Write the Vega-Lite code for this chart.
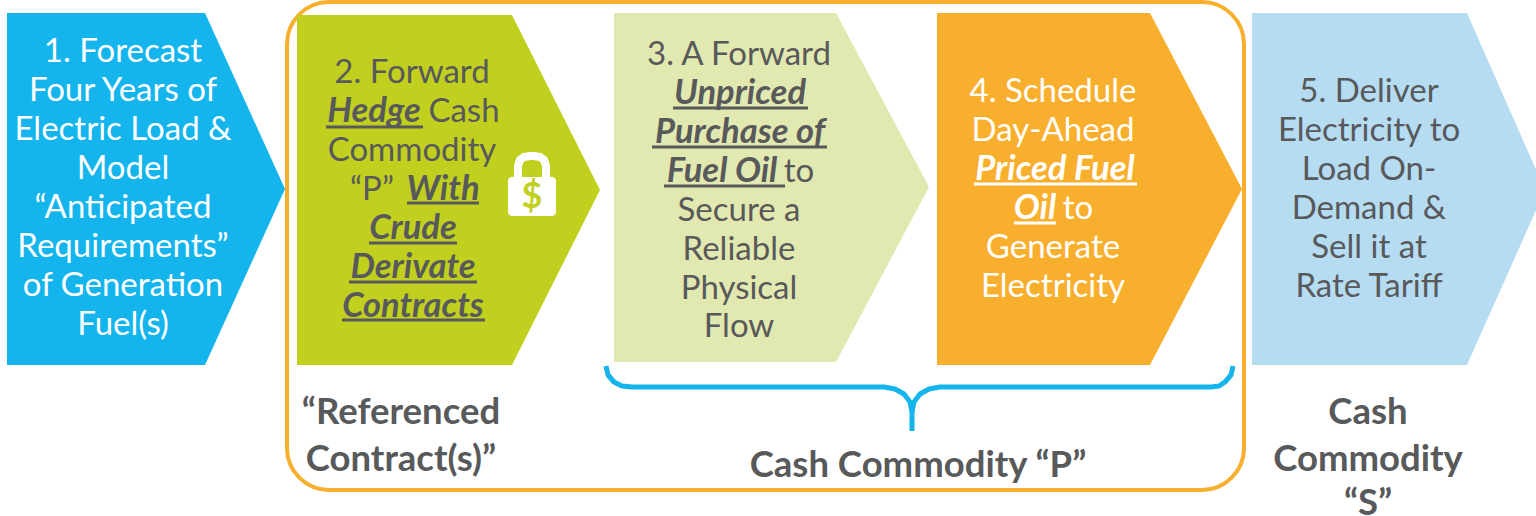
{"$schema":"https://vega.github.io/schema/vega-lite/v6.json","width":1536,"height":516,"padding":0,"autosize":{"type":"none"},"background":"white","view":{"stroke":null},
"datasets":{
"chevrons":[
{"s":"1","x":7,"t":13,"b":365},{"s":"1","x":205,"t":13,"b":365},{"s":"1","x":285,"t":189,"b":189},
{"s":"2","x":297,"t":15,"b":365},{"s":"2","x":512,"t":15,"b":365},{"s":"2","x":600,"t":190,"b":190},
{"s":"3","x":614,"t":13,"b":362},{"s":"3","x":836,"t":13,"b":362},{"s":"3","x":929,"t":187,"b":187},
{"s":"4","x":937,"t":13,"b":365},{"s":"4","x":1150,"t":13,"b":365},{"s":"4","x":1242,"t":189,"b":189},
{"s":"5","x":1252,"t":13,"b":365},{"s":"5","x":1467,"t":13,"b":365},{"s":"5","x":1545,"t":190,"b":190}],
"frame":[{"x":287,"x2":1244,"y":2,"y2":490}],
"brace":[
{"p":"l","o":1,"x":606,"y":366},{"p":"l","o":2,"x":608,"y":375},{"p":"l","o":3,"x":614,"y":382},{"p":"l","o":4,"x":622,"y":386},{"p":"l","o":5,"x":632,"y":387},{"p":"l","o":6,"x":884,"y":387},{"p":"l","o":7,"x":895,"y":389},{"p":"l","o":8,"x":904,"y":394},{"p":"l","o":9,"x":910,"y":402},{"p":"l","o":10,"x":912,"y":412},{"p":"l","o":11,"x":912,"y":431},
{"p":"r","o":1,"x":1233,"y":366},{"p":"r","o":2,"x":1231,"y":375},{"p":"r","o":3,"x":1225,"y":382},{"p":"r","o":4,"x":1219,"y":386},{"p":"r","o":5,"x":1211,"y":387},{"p":"r","o":6,"x":940,"y":387},{"p":"r","o":7,"x":929,"y":389},{"p":"r","o":8,"x":920,"y":394},{"p":"r","o":9,"x":914,"y":402},{"p":"r","o":10,"x":912,"y":412}],
"lockBody":[{"x":508,"x2":556,"y":177,"y2":216}],
"shackle":[{"o":1,"x":518,"y":182},{"o":2,"x":518,"y":166},{"o":3,"x":520,"y":160},{"o":4,"x":524,"y":157},{"o":5,"x":530,"y":156},{"o":6,"x":534,"y":156},{"o":7,"x":540,"y":157},{"o":8,"x":544,"y":160},{"o":9,"x":546,"y":166},{"o":10,"x":546,"y":182}],
"lockSign":[{"x":532,"y":208,"t":"$"}],
"underlines":[
{"box":"2","x":326,"x2":423,"y":127},{"box":"2","x":407,"x2":479,"y":203},{"box":"2","x":369,"x2":457,"y":243},{"box":"2","x":349,"x2":477,"y":282},{"box":"2","x":342,"x2":485,"y":320},
{"box":"3","x":673,"x2":808,"y":108},{"box":"3","x":652,"x2":827,"y":147},{"box":"3","x":664,"x2":785,"y":186},
{"box":"4","x":974,"x2":1137,"y":184},{"box":"4","x":1014,"x2":1056,"y":223}],
"regular":[
{"box":"1","x":123,"y":62,"t":"1. Forecast"},{"box":"1","x":123,"y":101,"t":"Four Years of"},{"box":"1","x":123,"y":140,"t":"Electric Load &"},{"box":"1","x":123,"y":179,"t":"Model"},{"box":"1","x":123,"y":218,"t":"“Anticipated"},{"box":"1","x":123,"y":257,"t":"Requirements”"},{"box":"1","x":123,"y":296,"t":"of Generation"},{"box":"1","x":123,"y":335,"t":"Fuel(s)"},
{"box":"2","x":412,"y":83,"t":"2. Forward"},{"box":"2","x":464,"y":122,"t":"Cash"},{"box":"2","x":412,"y":161,"t":"Commodity"},{"box":"2","x":372,"y":200,"t":"“P”"},
{"box":"3","x":739,"y":65,"t":"3. A Forward"},{"box":"3","x":799,"y":182,"t":"to"},{"box":"3","x":739,"y":221,"t":"Secure a"},{"box":"3","x":739,"y":260,"t":"Reliable"},{"box":"3","x":739,"y":299,"t":"Physical"},{"box":"3","x":739,"y":337,"t":"Flow"},
{"box":"4","x":1053,"y":102,"t":"4. Schedule"},{"box":"4","x":1053,"y":141,"t":"Day-Ahead"},{"box":"4","x":1078,"y":219,"t":"to"},{"box":"4","x":1053,"y":258,"t":"Generate"},{"box":"4","x":1053,"y":297,"t":"Electricity"},
{"box":"5","x":1369,"y":102,"t":"5. Deliver"},{"box":"5","x":1369,"y":141,"t":"Electricity to"},{"box":"5","x":1369,"y":180,"t":"Load On-"},{"box":"5","x":1369,"y":219,"t":"Demand  &"},{"box":"5","x":1369,"y":258,"t":"Sell it at"},{"box":"5","x":1369,"y":297,"t":"Rate Tariff"}],
"emphasis":[
{"box":"2","x":374,"y":122,"t":"Hedge"},{"box":"2","x":443,"y":200,"t":"With"},{"box":"2","x":413,"y":239,"t":"Crude"},{"box":"2","x":413,"y":278,"t":"Derivate"},{"box":"2","x":413,"y":317,"t":"Contracts"},
{"box":"3","x":740,"y":104,"t":"Unpriced"},{"box":"3","x":740,"y":143,"t":"Purchase of"},{"box":"3","x":722,"y":182,"t":"Fuel Oil"},
{"box":"4","x":1055,"y":180,"t":"Priced Fuel"},{"box":"4","x":1035,"y":219,"t":"Oil"}],
"captions":[
{"x":401,"y":424,"t":"“Referenced"},{"x":401,"y":471,"t":"Contract(s)”"},{"x":918,"y":477,"t":"Cash Commodity “P”"},{"x":1368,"y":424,"t":"Cash"},{"x":1368,"y":471,"t":"Commodity"},{"x":1368,"y":515,"t":"“S”"}]
},
"resolve":{"scale":{"color":"independent"}},
"layer":[
{"data":{"name":"frame"},"mark":{"type":"rect","filled":false,"stroke":"#F8AF2E","strokeWidth":4,"cornerRadius":42},"encoding":{"x":{"field":"x","type":"quantitative","scale":{"domain":[0,1536],"nice":false,"zero":false},"axis":null},"x2":{"field":"x2"},"y":{"field":"y","type":"quantitative","scale":{"domain":[516,0],"nice":false,"zero":false},"axis":null},"y2":{"field":"y2"}}},
{"data":{"name":"chevrons"},"mark":{"type":"area","orient":"vertical","interpolate":"linear"},"encoding":{"x":{"field":"x","type":"quantitative"},"y":{"field":"t","type":"quantitative"},"y2":{"field":"b"},"color":{"field":"s","type":"nominal","legend":null,"scale":{"domain":["1","2","3","4","5"],"range":["#14B4EC","#C1CF1F","#E1E8B0","#F8AF2E","#B6DCF2"]}}}},
{"data":{"name":"brace"},"mark":{"type":"line","color":"#14B4EC","strokeWidth":5,"strokeCap":"butt","strokeJoin":"round"},"encoding":{"x":{"field":"x","type":"quantitative"},"y":{"field":"y","type":"quantitative"},"order":{"field":"o","type":"quantitative"},"detail":{"field":"p"}}},
{"data":{"name":"lockBody"},"mark":{"type":"rect","fill":"white","cornerRadius":4},"encoding":{"x":{"field":"x","type":"quantitative"},"x2":{"field":"x2"},"y":{"field":"y","type":"quantitative"},"y2":{"field":"y2"}}},
{"data":{"name":"shackle"},"mark":{"type":"line","color":"white","strokeWidth":8},"encoding":{"x":{"field":"x","type":"quantitative"},"y":{"field":"y","type":"quantitative"},"order":{"field":"o","type":"quantitative"}}},
{"data":{"name":"lockSign"},"mark":{"type":"text","font":"Lato","fontWeight":"bold","fontSize":36,"align":"center","baseline":"alphabetic","fill":"#C1CF1F"},"encoding":{"x":{"field":"x","type":"quantitative"},"y":{"field":"y","type":"quantitative"},"text":{"field":"t"}}},
{"data":{"name":"underlines"},"mark":{"type":"rule","strokeWidth":3},"encoding":{"x":{"field":"x","type":"quantitative"},"x2":{"field":"x2"},"y":{"field":"y","type":"quantitative"},"color":{"field":"box","type":"nominal","legend":null,"scale":{"domain":["1","2","3","4","5"],"range":["#FFFFFF","#58595B","#58595B","#FFFFFF","#58595B"]}}}},
{"data":{"name":"regular"},"mark":{"type":"text","font":"Lato","fontSize":33,"align":"center","baseline":"alphabetic"},"encoding":{"x":{"field":"x","type":"quantitative"},"y":{"field":"y","type":"quantitative"},"text":{"field":"t"},"color":{"field":"box","type":"nominal","legend":null,"scale":{"domain":["1","2","3","4","5"],"range":["#FFFFFF","#58595B","#58595B","#FFFFFF","#58595B"]}}}},
{"data":{"name":"emphasis"},"mark":{"type":"text","font":"Lato","fontSize":34.5,"fontWeight":"bold","fontStyle":"italic","align":"center","baseline":"alphabetic"},"encoding":{"x":{"field":"x","type":"quantitative"},"y":{"field":"y","type":"quantitative"},"text":{"field":"t"},"color":{"field":"box","type":"nominal","legend":null,"scale":{"domain":["1","2","3","4","5"],"range":["#FFFFFF","#58595B","#58595B","#FFFFFF","#58595B"]}}}},
{"data":{"name":"captions"},"mark":{"type":"text","font":"Lato","fontSize":36.5,"fontWeight":"bold","align":"center","baseline":"alphabetic","fill":"#58595B"},"encoding":{"x":{"field":"x","type":"quantitative"},"y":{"field":"y","type":"quantitative"},"text":{"field":"t"}}}
]}
